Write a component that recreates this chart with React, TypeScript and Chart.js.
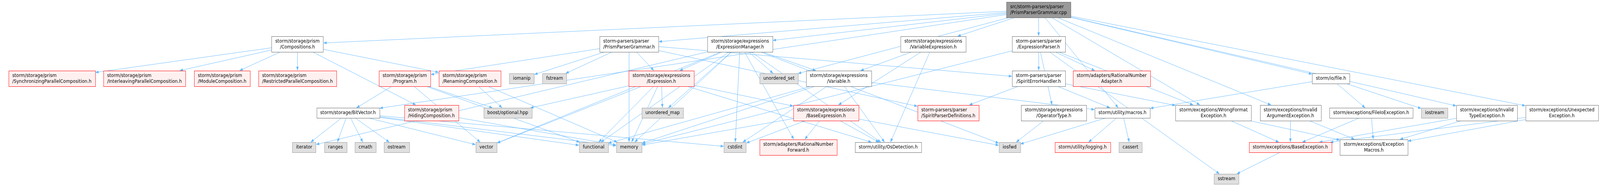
import React, { useEffect, useRef } from "react";
import { Chart, registerables } from "chart.js";

Chart.register(...registerables);

// include graph of src/storm-parsers/parser/PrismParserGrammar.cpp
const nodeIds = [
    "root", "compositions", "ppgH", "exprManager", "varExpr", "exprParser",
    "syncPar", "interPar", "modulePar", "restrictedPar", "program", "renaming", "iomanip", "fstream",
    "expression", "unorderedSet", "variable", "spiritErr", "ratAdapter", "ioFile",
    "bitVector", "hiding", "boostOpt", "unorderedMap", "baseExpr", "spiritDefs", "operatorType",
    "macros", "wrongFormat", "invalidArg", "fileIo", "iostream", "invalidType", "unexpected",
    "iterator", "ranges", "cmath", "ostream", "vector", "functional", "memory", "cstdint",
    "ratForward", "osDet", "iosfwd", "logging", "cassert", "baseException", "exceptionMacros",
    "sstream",
];

const nodeLabels = [
    "src/storm-parsers/parser\n/PrismParserGrammar.cpp",
    "storm/storage/prism\n/Compositions.h",
    "storm-parsers/parser\n/PrismParserGrammar.h",
    "storm/storage/expressions\n/ExpressionManager.h",
    "storm/storage/expressions\n/VariableExpression.h",
    "storm-parsers/parser\n/ExpressionParser.h",
    "storm/storage/prism\n/SynchronizingParallelComposition.h",
    "storm/storage/prism\n/InterleavingParallelComposition.h",
    "storm/storage/prism\n/ModuleComposition.h",
    "storm/storage/prism\n/RestrictedParallelComposition.h",
    "storm/storage/prism\n/Program.h",
    "storm/storage/prism\n/RenamingComposition.h",
    "iomanip",
    "fstream",
    "storm/storage/expressions\n/Expression.h",
    "unordered_set",
    "storm/storage/expressions\n/Variable.h",
    "storm-parsers/parser\n/SpiritErrorHandler.h",
    "storm/adapters/RationalNumber\nAdapter.h",
    "storm/io/file.h",
    "storm/storage/BitVector.h",
    "storm/storage/prism\n/HidingComposition.h",
    "boost/optional.hpp",
    "unordered_map",
    "storm/storage/expressions\n/BaseExpression.h",
    "storm-parsers/parser\n/SpiritParserDefinitions.h",
    "storm/storage/expressions\n/OperatorType.h",
    "storm/utility/macros.h",
    "storm/exceptions/WrongFormat\nException.h",
    "storm/exceptions/Invalid\nArgumentException.h",
    "storm/exceptions/FileIoException.h",
    "iostream",
    "storm/exceptions/Invalid\nTypeException.h",
    "storm/exceptions/Unexpected\nException.h",
    "iterator",
    "ranges",
    "cmath",
    "ostream",
    "vector",
    "functional",
    "memory",
    "cstdint",
    "storm/adapters/RationalNumber\nForward.h",
    "storm/utility/OsDetection.h",
    "iosfwd",
    "storm/utility/logging.h",
    "cassert",
    "storm/exceptions/BaseException.h",
    "storm/exceptions/Exception\nMacros.h",
    "sstream",
];

// rank (row) of every node
const nodeRanks = [
    0, 1, 1, 1, 1, 1,
    2, 2, 2, 2, 2, 2, 2, 2, 2, 2, 2, 2, 2, 2,
    3, 3, 3, 3, 3, 3, 3, 3, 3, 3, 3, 3, 3, 3,
    4, 4, 4, 4, 4, 4, 4, 4, 4, 4, 4, 4, 4, 4, 4,
    5,
];

// horizontal centre of every node on the x axis
const nodeCenters = [
    3102, 888.5, 1879, 2210.5, 2787.5, 3102.5,
    155, 431.5, 663.5, 888.5, 1209, 1403.5, 1558.5, 1656.5, 1975.5, 2326.5, 2505, 3102.5, 3320.5, 3975.5,
    1039.5, 1288.5, 1516.5, 1979, 2467, 2832.5, 3147.5, 3352.5, 3624.5, 3854.5, 4095.5, 4285, 4441, 4665,
    908.5, 1002, 1091.5, 1184.5, 1452.5, 1773, 1879, 2195.5, 2384.5, 2653, 3015.5, 3233.5, 3376.5, 3854, 4103.5,
    3663.5,
];

// root = the file itself, file = documented header, partial = truncated header, system = std / boost
const nodeKinds = [
    "root", "file", "file", "file", "file", "file",
    "partial", "partial", "partial", "partial", "partial", "partial", "system", "system",
    "partial", "system", "file", "file", "partial", "file",
    "file", "partial", "system", "system", "partial", "partial", "file",
    "file", "file", "file", "file", "system", "file", "file",
    "system", "system", "system", "system", "system", "system", "system", "system",
    "partial", "file", "system", "partial", "system", "partial", "file",
    "system",
];

// y axis value of each rank
const rankLevels = [25, 113, 201, 289, 377, 458];

const includes: [string, string][] = [
    ["root", "ppgH"], ["root", "compositions"], ["root", "exprManager"], ["root", "varExpr"],
    ["root", "exprParser"], ["root", "bitVector"], ["root", "ioFile"], ["root", "macros"],
    ["root", "wrongFormat"], ["root", "invalidArg"], ["root", "invalidType"], ["root", "unexpected"],
    ["root", "unorderedSet"],
    ["compositions", "syncPar"], ["compositions", "interPar"], ["compositions", "modulePar"],
    ["compositions", "restrictedPar"], ["compositions", "hiding"], ["compositions", "renaming"],
    ["ppgH", "program"], ["ppgH", "iomanip"], ["ppgH", "fstream"], ["ppgH", "memory"],
    ["ppgH", "expression"], ["ppgH", "spiritErr"], ["ppgH", "spiritDefs"],
    ["exprManager", "iterator"], ["exprManager", "vector"], ["exprManager", "expression"],
    ["exprManager", "unorderedMap"], ["exprManager", "cstdint"], ["exprManager", "ratForward"],
    ["exprManager", "unorderedSet"], ["exprManager", "variable"], ["exprManager", "osDet"],
    ["exprManager", "iosfwd"], ["exprManager", "functional"], ["exprManager", "memory"],
    ["varExpr", "variable"], ["varExpr", "baseExpr"], ["varExpr", "osDet"],
    ["exprParser", "spiritErr"], ["exprParser", "operatorType"], ["exprParser", "memory"],
    ["exprParser", "ratAdapter"], ["exprParser", "sstream"], ["exprParser", "wrongFormat"],
    ["program", "bitVector"], ["program", "vector"], ["program", "boostOpt"], ["program", "functional"],
    ["renaming", "boostOpt"], ["renaming", "memory"], ["hiding", "memory"],
    ["expression", "unorderedMap"], ["expression", "functional"], ["expression", "memory"],
    ["expression", "baseExpr"], ["expression", "osDet"], ["expression", "vector"], ["expression", "boostOpt"],
    ["variable", "macros"], ["variable", "osDet"], ["variable", "functional"], ["variable", "memory"],
    ["variable", "cstdint"],
    ["baseExpr", "ratForward"], ["baseExpr", "osDet"], ["baseExpr", "iosfwd"], ["baseExpr", "memory"],
    ["baseExpr", "cstdint"],
    ["spiritErr", "spiritDefs"], ["spiritErr", "macros"], ["spiritErr", "wrongFormat"],
    ["operatorType", "iosfwd"],
    ["bitVector", "iterator"], ["bitVector", "ranges"], ["bitVector", "cmath"], ["bitVector", "ostream"],
    ["bitVector", "vector"], ["bitVector", "functional"], ["bitVector", "memory"], ["bitVector", "cstdint"],
    ["macros", "logging"], ["macros", "cassert"], ["macros", "iosfwd"],
    ["ioFile", "macros"], ["ioFile", "fileIo"], ["ioFile", "iostream"],
    ["wrongFormat", "baseException"], ["wrongFormat", "exceptionMacros"],
    ["invalidArg", "baseException"], ["invalidArg", "exceptionMacros"],
    ["fileIo", "baseException"], ["fileIo", "exceptionMacros"],
    ["invalidType", "baseException"], ["invalidType", "exceptionMacros"],
    ["unexpected", "baseException"], ["unexpected", "exceptionMacros"],
    ["baseException", "sstream"],
];

// the drawing is laid out for a 4779 x 476 picture and scaled to whatever the canvas really is
const REF_W = 4779;
const REF_H = 476;
const FONT = '13px "DejaVu Sans"';
const LINE_H = 14.7;
const PAD_X = 11;
const PAD_Y = 5.5;
const EDGE_COLOR = "#63b8ff";

const kindColors: Record<string, { fill: string; stroke: string }> = {
    root: { fill: "#999999", stroke: "#666666" },
    file: { fill: "#ffffff", stroke: "#666666" },
    partial: { fill: "#fff0f0", stroke: "#ff0000" },
    system: { fill: "#e0e0e0", stroke: "#999999" },
};

type Box = { cx: number; cy: number; hw: number; hh: number; lines: string[]; widths: number[] };

const factors = (chart: Chart) => ({ kx: chart.width / REF_W, ky: chart.height / REF_H });

// box of every node, from the point the scatter dataset placed on the scales
const layoutBoxes = (chart: Chart): Box[] => {
    const ctx = chart.ctx;
    const { kx, ky } = factors(chart);
    ctx.save();
    ctx.font = FONT;
    const points = chart.getDatasetMeta(0).data;
    const boxes = nodeLabels.map((label, i) => {
        const lines = label.split("\n");
        const widths = lines.map((l) => ctx.measureText(l).width);
        const w = Math.max(...widths) + PAD_X * 2;
        const h = lines.length * LINE_H + PAD_Y * 2;
        return { cx: points[i].x / kx, cy: points[i].y / ky, hw: w / 2, hh: h / 2, lines, widths };
    });
    ctx.restore();
    return boxes;
};

// where the ray from the box centre along (dx, dy) leaves the box
const clip = (b: Box, dx: number, dy: number) => {
    const tx = dx === 0 ? Infinity : b.hw / Math.abs(dx);
    const ty = dy === 0 ? Infinity : b.hh / Math.abs(dy);
    const t = Math.min(tx, ty);
    return { x: b.cx + dx * t, y: b.cy + dy * t };
};

const graphPlugin = {
    id: "includeGraph",
    beforeDatasetsDraw(chart: Chart) {
        const ctx = chart.ctx;
        const boxes = layoutBoxes(chart);
        const { kx, ky } = factors(chart);
        ctx.save();
        ctx.scale(kx, ky);
        ctx.strokeStyle = EDGE_COLOR;
        ctx.fillStyle = EDGE_COLOR;
        ctx.lineWidth = 1;
        includes.forEach(([from, to]) => {
            const a = boxes[nodeIds.indexOf(from)];
            const b = boxes[nodeIds.indexOf(to)];
            const dx = b.cx - a.cx;
            const dy = b.cy - a.cy;
            const start = clip(a, dx, dy);
            const end = clip(b, -dx, -dy);
            const len = Math.hypot(end.x - start.x, end.y - start.y) || 1;
            const ux = (end.x - start.x) / len;
            const uy = (end.y - start.y) / len;
            const headLen = 10;
            const headW = 3.6;
            const bx = end.x - ux * headLen;
            const by = end.y - uy * headLen;
            ctx.beginPath();
            ctx.moveTo(start.x, start.y);
            ctx.lineTo(bx, by);
            ctx.stroke();
            ctx.beginPath();
            ctx.moveTo(end.x, end.y);
            ctx.lineTo(bx - uy * headW, by + ux * headW);
            ctx.lineTo(bx + uy * headW, by - ux * headW);
            ctx.closePath();
            ctx.fill();
        });
        ctx.restore();
    },
    afterDatasetsDraw(chart: Chart) {
        const ctx = chart.ctx;
        const boxes = layoutBoxes(chart);
        const { kx, ky } = factors(chart);
        ctx.save();
        ctx.scale(kx, ky);
        ctx.font = FONT;
        ctx.textBaseline = "middle";
        boxes.forEach((b, i) => {
            const colors = kindColors[nodeKinds[i]];
            const left = Math.round(b.cx - b.hw) + 0.5;
            const top = Math.round(b.cy - b.hh) + 0.5;
            const w = Math.round(b.hw * 2);
            const h = Math.round(b.hh * 2);
            ctx.fillStyle = colors.fill;
            ctx.fillRect(left, top, w, h);
            ctx.strokeStyle = colors.stroke;
            ctx.lineWidth = 1;
            ctx.strokeRect(left, top, w, h);

            // doxygen keeps the lines flush left when a later line is the widest one
            const leftAlign = b.widths.slice(1).some((wd) => wd > b.widths[0]);
            ctx.fillStyle = "#000000";
            const firstY = b.cy - ((b.lines.length - 1) * LINE_H) / 2;
            b.lines.forEach((line, k) => {
                const y = firstY + k * LINE_H;
                if (leftAlign) {
                    ctx.textAlign = "left";
                    ctx.fillText(line, b.cx - b.hw + PAD_X, y);
                } else {
                    ctx.textAlign = "center";
                    ctx.fillText(line, b.cx, y);
                }
            });
        });
        ctx.restore();
    },
};

const App = () => {
    const chartRef = useRef<HTMLCanvasElement | null>(null);

    useEffect(() => {
        document.body.style.margin = "0";
        document.body.style.overflow = "hidden";
        document.body.style.background = "#ffffff";
        if (!chartRef.current) return;
        const ctx = chartRef.current.getContext("2d");
        if (!ctx) return;

        const chart = new Chart(ctx, {
            type: "scatter",
            data: {
                datasets: [
                    {
                        label: "headers",
                        data: nodeIds.map((_, i) => ({ x: nodeCenters[i], y: rankLevels[nodeRanks[i]] })),
                        pointRadius: 0,
                        pointHoverRadius: 0,
                    },
                ],
            },
            options: {
                animation: false,
                responsive: true,
                maintainAspectRatio: false,
                events: [],
                layout: { padding: 0 },
                plugins: {
                    legend: { display: false },
                    tooltip: { enabled: false },
                },
                scales: {
                    x: { type: "linear", min: 0, max: REF_W, display: false },
                    y: { type: "linear", min: 0, max: REF_H, reverse: true, display: false },
                },
            },
            plugins: [graphPlugin],
        });

        return () => {
            chart.destroy();
        };
    }, []);

    return (
        <div style={{ position: "relative", width: "100vw", height: "100vh", background: "#ffffff" }}>
            <canvas ref={chartRef}></canvas>
        </div>
    );
};

export default App;
